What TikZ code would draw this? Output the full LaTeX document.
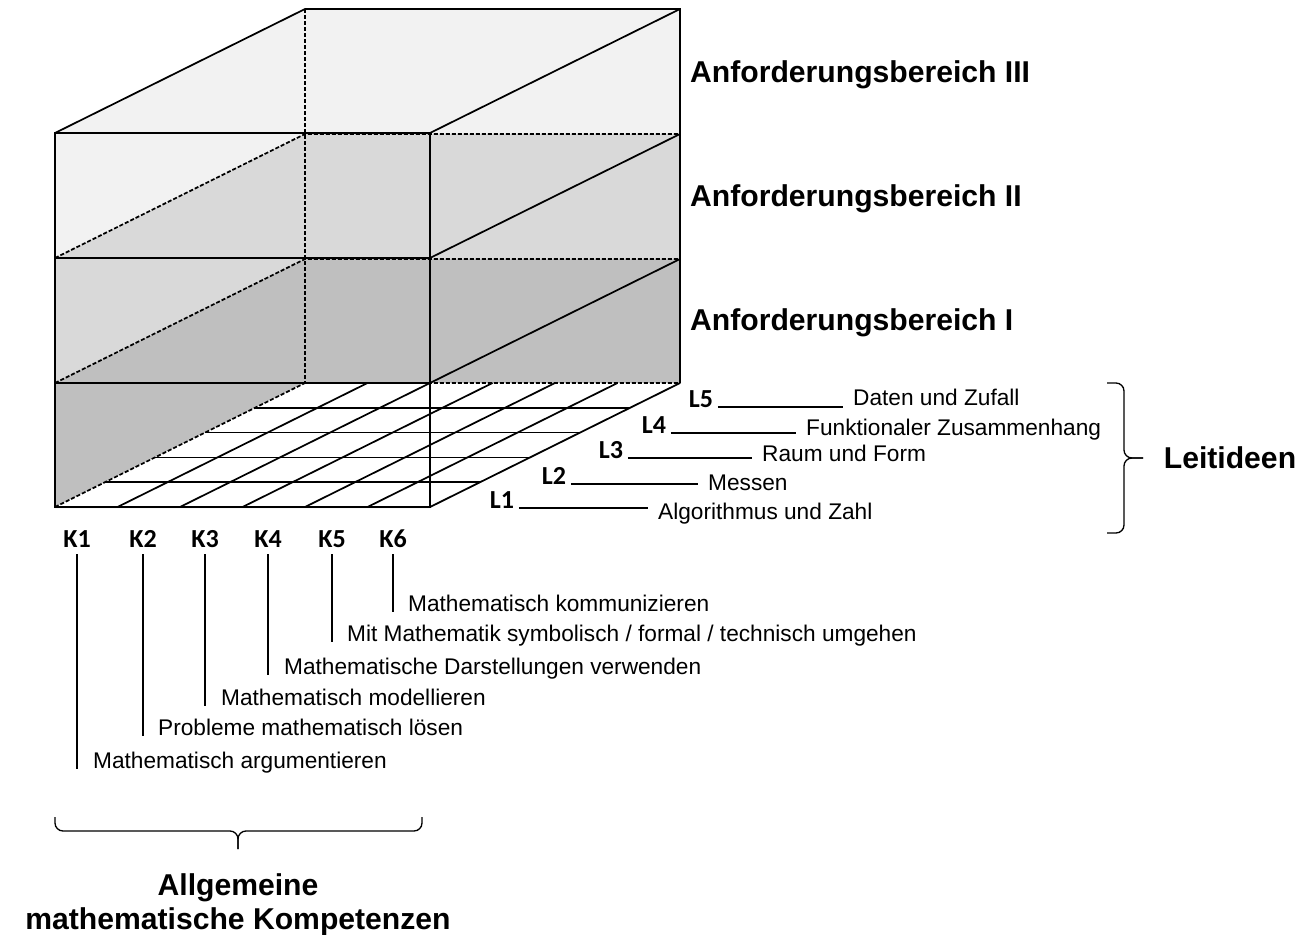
\documentclass[tikz,border=0pt]{standalone}
\usepackage{fontspec}
\setmainfont{Liberation Sans}
\newfontfamily\carlito{Carlito}
\usetikzlibrary{positioning}

\definecolor{abIII}{HTML}{F2F2F2}
\definecolor{abII}{HTML}{D9D9D9}
\definecolor{abI}{HTML}{BFBFBF}

\begin{document}
\begin{tikzpicture}[x=0.75pt,y=-0.75pt,line width=1.3pt,
  hidden/.style={dash pattern=on 3pt off 1.5pt},
  bereich/.style={anchor=west,inner sep=1pt,font=\fontsize{22.6}{25.5}\selectfont\bfseries},
  idx/.style={inner sep=1pt,anchor=base,font=\carlito\fontsize{19.5}{21}\selectfont\bfseries},
  desc/.style={inner sep=1pt,anchor=mid west,font=\fontsize{17}{20}\selectfont},
  klammer/.style={line width=1pt,rounded corners=6pt}]
\useasboundingbox (0,0) rectangle (1307,935);

% Schichten
\foreach \y/\c in {133/abIII,258/abII,383/abI}
  \fill[\c] (55,\y) -- ++(250,-124) -- ++(375,0) -- ++(0,125) -- ++(-250,124) -- ++(-375,0) -- cycle;
\fill[white] (55,507) -- ++(250,-124) -- ++(375,0) -- ++(-250,124) -- cycle;

% Raster K x L
\foreach \i in {1,...,5}
  \draw (55+62.5*\i,507) -- ++(250,-124);
\foreach \j in {1,...,4}
  \draw (55+50*\j,507-24.8*\j) -- ++(375,0);

% verdeckte Kanten
\draw[hidden] (305,9) -- (305,383);
\foreach \y in {258,383,507}
  \draw[hidden] (55,\y) -- ++(250,-124) -- ++(375,0);

% sichtbare Kanten
\draw (55,133) rectangle (430,507);
\draw (55,258) -- (430,258) (55,383) -- (430,383);
\draw (55,133) -- (305,9) -- (680,9) -- (680,383);
\foreach \y in {133,258,383,507}
  \draw (430,\y) -- ++(250,-124);

\node[bereich] (ab3) at (688,75) {Anforderungsbereich III};
\node[bereich] (ab2) at (688,199) {Anforderungsbereich II};
\node[bereich] (ab1) at (688,323) {Anforderungsbereich I};

% Leitideen
\node[idx] (l5) at (701,407) {L5};
\node[idx] (l4) at (654,433) {L4};
\node[idx] (l3) at (611,458) {L3};
\node[idx] (l2) at (554,484) {L2};
\node[idx] (l1) at (502,508) {L1};
\node[desc] (t5) at (851,402) {Daten und Zufall};
\node[desc] (t4) at (804,432) {Funktionaler Zusammenhang};
\node[desc] (t3) at (760,458) {Raum und Form};
\node[desc] (t2) at (706,487) {Messen};
\node[desc] (t1) at (656,516) {Algorithmus und Zahl};
\foreach \n in {1,...,5}
  \draw[shorten <=2pt,shorten >=6pt] (l\n.base east) -- (l\n.base east -| t\n.west);

\coordinate (ltip) at (1143,458);
\draw[klammer] (1107,383) -| (1124,458) -- (ltip);
\draw[klammer] (1107,533) -| (1124,458) -- (ltip);
\node[bereich,right=14pt of ltip] (leit) {Leitideen};

% Kompetenzen
\node[idx] (k1) at (77,547) {K1};
\node[idx] (k2) at (143,547) {K2};
\node[idx] (k3) at (205,547) {K3};
\node[idx] (k4) at (268,547) {K4};
\node[idx] (k5) at (332,547) {K5};
\node[idx] (k6) at (393,547) {K6};
\node[desc] (c1) at (91,765) {Mathematisch argumentieren};
\node[desc] (c2) at (156,732) {Probleme mathematisch lösen};
\node[desc] (c3) at (219,702) {Mathematisch modellieren};
\node[desc] (c4) at (282,671) {Mathematische Darstellungen verwenden};
\node[desc] (c5) at (345,638) {Mit Mathematik symbolisch / formal / technisch umgehen};
\node[desc] (c6) at (406,608) {Mathematisch kommunizieren};
\foreach \n in {1,...,6}
  \draw[shorten <=4pt] (k\n.base |- 0,549) -- (k\n.base |- c\n.base);

\coordinate (ktip) at (238,849);
\draw[klammer] (55,817) |- (238,831) -- (ktip);
\draw[klammer] (422,817) |- (238,831) -- (ktip);
\node[bereich,align=center,below=17pt of ktip] (komp) {Allgemeine\\mathematische Kompetenzen};
\end{tikzpicture}
\end{document}
